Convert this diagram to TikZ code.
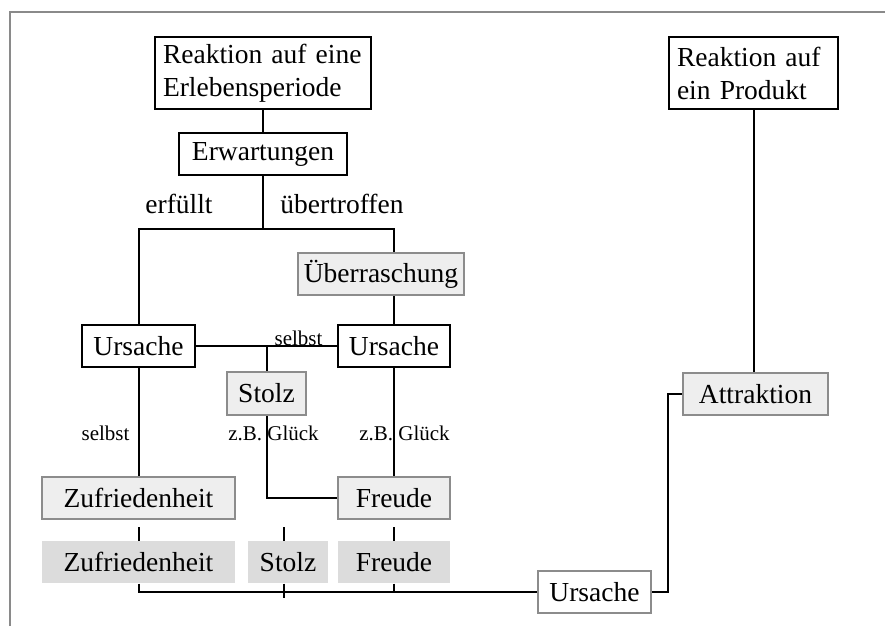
\documentclass[tikz,border=0pt]{standalone}
\usepackage{fontspec}
\setmainfont{Liberation Serif}
\definecolor{framegray}{HTML}{8A8A8A}
\definecolor{boxgray}{HTML}{8C8C8C}
\definecolor{boxfill}{HTML}{EEEEEE}
\definecolor{flatfill}{HTML}{DCDCDC}
\newcommand\boxfont{\fontsize{11}{13.2}\selectfont}
\newcommand\notefont{\fontsize{8.4}{9}\selectfont}
\tikzset{
  conn/.style={line width=0.8pt, black},
  plainbox/.style={draw=black, line width=0.8pt, fill=white, inner sep=0pt,
    minimum height=16.8pt, font=\boxfont},
  softbox/.style={draw=boxgray, line width=0.8pt, fill=boxfill, inner sep=0pt,
    minimum height=16.8pt, font=\boxfont},
  flatbox/.style={fill=flatfill, inner sep=0pt, minimum height=16.8pt, font=\boxfont},
  outbox/.style={draw=boxgray, line width=0.8pt, fill=white, inner sep=0pt,
    minimum height=16.8pt, font=\boxfont},
  twoline/.style={plainbox, align=left, inner xsep=3.2pt, minimum height=28.8pt},
  note/.style={font=\notefont, inner sep=0pt},
  branch/.style={font=\boxfont, inner sep=0pt},
}
\begin{document}
\begin{tikzpicture}[x=0.4pt, y=-0.4pt]
\useasboundingbox (0,0) rectangle (885,626);

% frame
\draw[framegray, line width=0.8pt] (9.5,626) -- (9.5,12.5) -- (885,12.5);

% top boxes
\node[twoline, text width=80pt] (period) at (263,73) {Reaktion auf eine\\Erlebensperiode};
\node[twoline, text width=61.2pt] (product) at (753.5,73) {Reaktion auf\\ein Produkt};
\node[plainbox, minimum width=67.2pt] (expect) at (263,154) {Erwartungen};

% second level
\node[softbox, minimum width=66.4pt] (surprise) at (381,274) {Überraschung};
\node[plainbox, minimum width=45.2pt] (causeL) at (138.5,346) {Ursache};
\node[plainbox, minimum width=44.8pt] (causeR) at (394,346) {Ursache};
\node[softbox, minimum width=31.6pt, minimum height=17.2pt] (pride) at (266.5,393.5) {Stolz};

% emotions
\node[softbox, minimum width=77.2pt] (content) at (138.5,498) {Zufriedenheit};
\node[softbox, minimum width=44.8pt] (joy) at (394,498) {Freude};

% summary row
\node[flatbox, minimum width=77.2pt] (contentS) at (138.5,562) {Zufriedenheit};
\node[flatbox, minimum width=32pt] (prideS) at (288,562) {Stolz};
\node[flatbox, minimum width=44.8pt] (joyS) at (394,562) {Freude};

% right branch
\node[outbox, minimum width=45.2pt] (causeB) at (594.5,592) {Ursache};
\node[softbox, minimum width=58pt] (attract) at (755.5,394) {Attraktion};

% connectors: left tree
\coordinate (split) at (263,229);
\draw[conn] (period.south) -- (expect.north);
\draw[conn] (expect.south) -- (split);
\draw[conn] (causeL.north) -- (causeL.north |- split) -- (causeR.north |- split) -- (causeR.north |- surprise.north);
\draw[conn] (causeR.north |- surprise.south) -- (causeR.north);
\draw[conn] (causeL.east) -- (causeR.west);
\draw[conn] (pride.north |- causeL.east) -- (pride.north);
\draw[conn] (pride.south) |- (joy.west);
\draw[conn] (causeL.south) -- (content.north);
\draw[conn] (causeR.south) -- (joy.north);

% labels
\node[branch, anchor=base] (lblmet) at (179,213) {erfüllt};
\node[branch, anchor=base] (lblexc) at (342,213) {übertroffen};
\node[note, anchor=base] (lblself) at (298.5,345) {selbst};
\node[note, anchor=base] (lblselfL) at (105.5,440) {selbst};
\node[note, anchor=base] (lblluckL) at (273.5,440) {z.B. Glück};
\node[note, anchor=base] (lblluckR) at (404.5,440) {z.B. Glück};

% summary row stubs and bus
\coordinate (prideTop) at (284,527);
\coordinate (prideBot) at (284,598);
\draw[conn] (contentS.north) -- ++(0,-14);
\draw[conn] (prideTop) -- (prideTop |- prideS.north);
\draw[conn] (joyS.north) -- ++(0,-14);
\draw[conn] (contentS.south) -- (contentS.south |- causeB.west) -- (causeB.west);
\draw[conn] (prideTop |- prideS.south) -- (prideBot);
\draw[conn] (joyS.south) -- (joyS.south |- causeB.west);

% right branch connectors
\draw[conn] (causeB.east) -- ++(16,0) |- (attract.west);
\draw[conn] (product.south) -- (product.south |- attract.north);
\end{tikzpicture}
\end{document}
